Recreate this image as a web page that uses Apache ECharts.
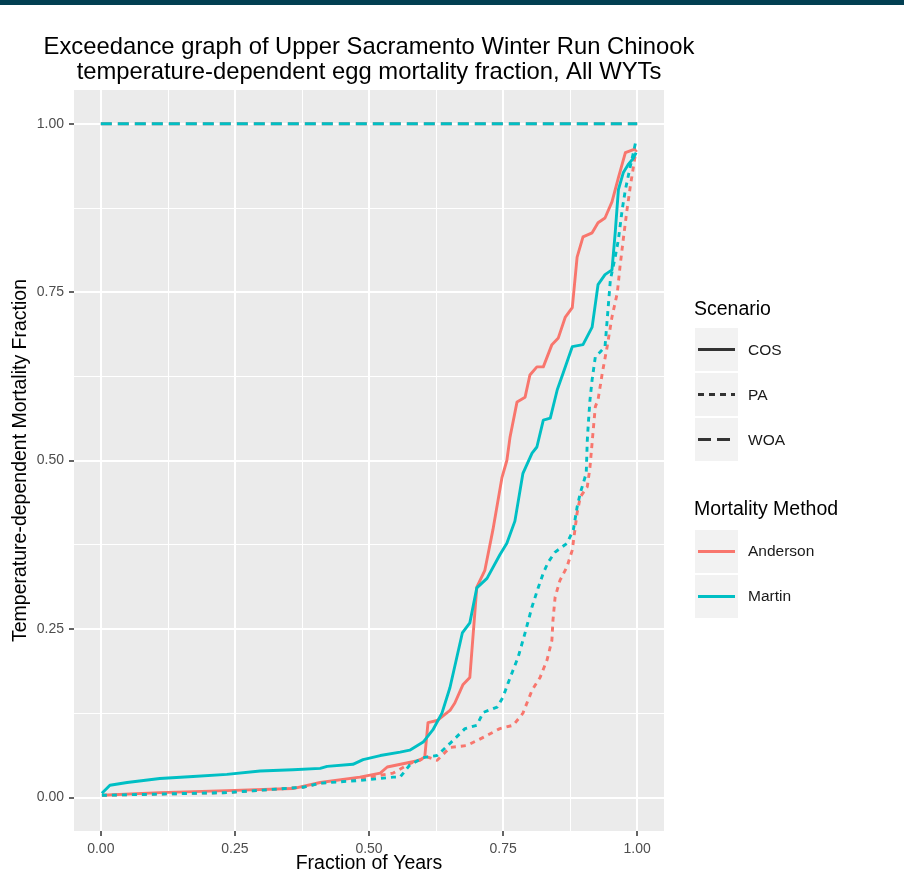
<!DOCTYPE html>
<html>
<head>
<meta charset="utf-8">
<script src="https://cdn.jsdelivr.net/npm/echarts@6/dist/echarts.min.js"></script>
<style>
  html, body { margin: 0; padding: 0; background: #ffffff; }
  #chart { width: 904px; height: 874px; }
</style>
</head>
<body>
<div id="chart"></div>
<script>
// Axis breaks
const xTicks = [0, 0.25, 0.5, 0.75, 1];
const xMinorTicks = [0.125, 0.375, 0.625, 0.875];
const yTicks = [0, 0.25, 0.5, 0.75, 1];
const yMinorTicks = [0.125, 0.375, 0.625, 0.875];

// Exceedance curves: [fraction of years, mortality fraction]
const andersonCOS = [
  [0.002, 0.003], [0.11, 0.007], [0.235, 0.01], [0.358, 0.013], [0.409, 0.022],
  [0.483, 0.03], [0.521, 0.036], [0.534, 0.045], [0.595, 0.055], [0.604, 0.06],
  [0.61, 0.111], [0.627, 0.114], [0.651, 0.129], [0.66, 0.14], [0.675, 0.167],
  [0.688, 0.178], [0.701, 0.312], [0.716, 0.337], [0.731, 0.397], [0.748, 0.475],
  [0.757, 0.5], [0.763, 0.535], [0.776, 0.587], [0.791, 0.594], [0.8, 0.627],
  [0.813, 0.639], [0.825, 0.639], [0.841, 0.672], [0.853, 0.682], [0.866, 0.713],
  [0.879, 0.727], [0.888, 0.802], [0.899, 0.832], [0.916, 0.838], [0.927, 0.853],
  [0.94, 0.86], [0.953, 0.884], [0.965, 0.92], [0.978, 0.957], [0.998, 0.963]
];
const martinCOS = [
  [0.002, 0.006], [0.017, 0.018], [0.049, 0.022], [0.11, 0.028], [0.172, 0.031],
  [0.235, 0.034], [0.297, 0.039], [0.358, 0.041], [0.409, 0.043], [0.422, 0.046],
  [0.47, 0.049], [0.489, 0.056], [0.521, 0.062], [0.558, 0.067], [0.576, 0.07],
  [0.601, 0.082], [0.619, 0.1], [0.636, 0.125], [0.651, 0.163], [0.674, 0.244],
  [0.688, 0.259], [0.701, 0.311], [0.72, 0.325], [0.744, 0.36], [0.757, 0.377],
  [0.772, 0.41], [0.787, 0.481], [0.804, 0.511], [0.813, 0.52], [0.825, 0.56],
  [0.838, 0.563], [0.851, 0.605], [0.862, 0.63], [0.879, 0.669], [0.899, 0.672],
  [0.916, 0.698], [0.927, 0.761], [0.94, 0.776], [0.953, 0.783], [0.959, 0.838],
  [0.965, 0.902], [0.974, 0.927], [0.983, 0.939], [0.993, 0.949], [0.998, 0.957]
];
const andersonPA = [
  [0.002, 0.003], [0.235, 0.007], [0.377, 0.015], [0.409, 0.021], [0.502, 0.03],
  [0.545, 0.036], [0.576, 0.05], [0.608, 0.06], [0.627, 0.055], [0.651, 0.074],
  [0.683, 0.077], [0.713, 0.089], [0.744, 0.102], [0.769, 0.107], [0.787, 0.125],
  [0.804, 0.159], [0.819, 0.178], [0.832, 0.204], [0.841, 0.233], [0.843, 0.263],
  [0.847, 0.297], [0.856, 0.322], [0.869, 0.342], [0.879, 0.367], [0.888, 0.422],
  [0.894, 0.446], [0.907, 0.461], [0.912, 0.49], [0.918, 0.545], [0.922, 0.58],
  [0.927, 0.59], [0.935, 0.63], [0.944, 0.669], [0.953, 0.713], [0.963, 0.749],
  [0.968, 0.788], [0.974, 0.828], [0.981, 0.872], [0.987, 0.906], [0.993, 0.936],
  [0.998, 0.961]
];
const martinPA = [
  [0.002, 0.003], [0.235, 0.007], [0.377, 0.015], [0.409, 0.021], [0.483, 0.025],
  [0.545, 0.03], [0.558, 0.03], [0.576, 0.048], [0.601, 0.059], [0.627, 0.062],
  [0.651, 0.08], [0.679, 0.102], [0.701, 0.107], [0.713, 0.126], [0.739, 0.134],
  [0.75, 0.149], [0.759, 0.169], [0.778, 0.208], [0.791, 0.244], [0.804, 0.283],
  [0.815, 0.31], [0.825, 0.333], [0.834, 0.349], [0.847, 0.364], [0.869, 0.377],
  [0.881, 0.397], [0.888, 0.431], [0.894, 0.452], [0.905, 0.481], [0.907, 0.53],
  [0.909, 0.556], [0.912, 0.59], [0.916, 0.62], [0.922, 0.654], [0.931, 0.661],
  [0.94, 0.669], [0.946, 0.728], [0.95, 0.768], [0.959, 0.802], [0.965, 0.828],
  [0.972, 0.872], [0.978, 0.902], [0.987, 0.936], [0.993, 0.957], [0.998, 0.976]
];
const andersonWOA = [[0, 1], [1, 1]];
const martinWOA = [[0, 1], [1, 1]];

const RED = '#F8766D';
const TEAL = '#00BFC4';
const FONT = '"Liberation Sans", Arial, sans-serif';

const solid = 'solid';
const dotted = [5, 5];
const dashed = [11, 6];

function curve(name, data, color, type) {
  return {
    name: name,
    type: 'line',
    data: data,
    symbol: 'none',
    showSymbol: false,
    silent: true,
    lineStyle: { color: color, width: 2.9, type: type, cap: 'butt', join: 'round' }
  };
}

const tickFmt = v => Number(v).toFixed(2);

const chart = echarts.init(document.getElementById('chart'), null, { renderer: 'canvas' });

const legendKeys = [];
function keyBox(y) {
  legendKeys.push({
    type: 'rect', shape: { x: 695, y: y, width: 43, height: 43 },
    style: { fill: '#F2F2F2' }, silent: true
  });
}
function keyLine(y, color, dash) {
  legendKeys.push({
    type: 'line', shape: { x1: 698, y1: y, x2: 735, y2: y },
    style: { stroke: color, lineWidth: 3, lineDash: dash, lineCap: 'butt' }, silent: true
  });
}
function keyText(y, text, size) {
  legendKeys.push({
    type: 'text', x: 748, y: y,
    style: { text: text, fill: '#1a1a1a', font: size + 'px ' + FONT, textAlign: 'left', textVerticalAlign: 'middle' },
    silent: true
  });
}

// Scenario legend
legendKeys.push({ type: 'text', x: 694, y: 310,
  style: { text: 'Scenario', fill: '#000', font: '19.5px ' + FONT, textAlign: 'left', textVerticalAlign: 'middle' } });
keyBox(328); keyBox(373); keyBox(418);
keyLine(349.5, '#333333', null);
keyLine(394.5, '#333333', [6, 5]);
keyLine(439.5, '#333333', [13, 6]);
keyText(351, 'COS', 15.5);
keyText(396, 'PA', 15.5);
keyText(441, 'WOA', 15.5);

// Mortality Method legend
legendKeys.push({ type: 'text', x: 694, y: 510,
  style: { text: 'Mortality Method', fill: '#000', font: '19.5px ' + FONT, textAlign: 'left', textVerticalAlign: 'middle' } });
keyBox(530); keyBox(575);
keyLine(551.5, RED, null);
keyLine(596.5, TEAL, null);
keyText(552, 'Anderson', 15.5);
keyText(597, 'Martin', 15.5);

const option = {
  animation: false,
  backgroundColor: '#ffffff',
  textStyle: { fontFamily: FONT },
  grid: {
    left: 74, top: 90, width: 590, height: 741,
    containLabel: false, outerBoundsMode: 'none',
    show: true, backgroundColor: '#EBEBEB', borderWidth: 0
  },
  xAxis: [
    {
      type: 'value', min: -0.05, max: 1.05, gridIndex: 0, position: 'bottom',
      name: 'Fraction of Years', nameLocation: 'middle', nameGap: 23, nameMoveOverlap: false,
      nameTextStyle: { fontSize: 19.5, color: '#000', fontFamily: FONT },
      axisLine: { show: false, onZero: false },
      axisTick: { show: true, inside: false, customValues: xTicks, length: 5, lineStyle: { color: '#333333', width: 1.5 } },
      axisLabel: { show: true, customValues: xTicks, formatter: tickFmt, margin: 11, fontSize: 14, color: '#4D4D4D', fontFamily: FONT },
      splitLine: { show: true, lineStyle: { color: '#ffffff', width: 2 } }
    },
    {
      type: 'value', min: -0.05, max: 1.05, gridIndex: 0, position: 'bottom',
      axisLine: { show: false, onZero: false },
      axisTick: { show: false, customValues: xMinorTicks },
      axisLabel: { show: false, customValues: xMinorTicks },
      splitLine: { show: true, lineStyle: { color: '#ffffff', width: 1 } }
    }
  ],
  yAxis: [
    {
      type: 'value', min: -0.05, max: 1.05, gridIndex: 0, position: 'left',
      name: 'Temperature-dependent Mortality Fraction', nameLocation: 'middle', nameGap: 43, nameMoveOverlap: false,
      nameTextStyle: { fontSize: 19.5, color: '#000', fontFamily: FONT },
      axisLine: { show: false, onZero: false },
      axisTick: { show: true, inside: false, customValues: yTicks, length: 5, lineStyle: { color: '#333333', width: 1.5 } },
      axisLabel: { show: true, customValues: yTicks, formatter: tickFmt, margin: 10, fontSize: 14, color: '#4D4D4D', fontFamily: FONT },
      splitLine: { show: true, lineStyle: { color: '#ffffff', width: 2 } }
    },
    {
      type: 'value', min: -0.05, max: 1.05, gridIndex: 0, position: 'left',
      axisLine: { show: false, onZero: false },
      axisTick: { show: false, customValues: yMinorTicks },
      axisLabel: { show: false, customValues: yMinorTicks },
      splitLine: { show: true, lineStyle: { color: '#ffffff', width: 1 } }
    }
  ],
  graphic: [
    { type: 'rect', shape: { x: 0, y: 0, width: 904, height: 5 }, style: { fill: '#023F52' }, silent: true },
    { type: 'text', x: 369, y: 47,
      style: { text: 'Exceedance graph of Upper Sacramento Winter Run Chinook', fill: '#000',
               font: '23.8px ' + FONT, textAlign: 'center', textVerticalAlign: 'middle' } },
    { type: 'text', x: 369, y: 72,
      style: { text: 'temperature-dependent egg mortality fraction, All WYTs', fill: '#000',
               font: '23.8px ' + FONT, textAlign: 'center', textVerticalAlign: 'middle' } }
  ].concat(legendKeys),
  series: [
    curve('Anderson COS', andersonCOS, RED, solid),
    curve('Anderson PA', andersonPA, RED, dotted),
    curve('Anderson WOA', andersonWOA, RED, dashed),
    curve('Martin COS', martinCOS, TEAL, solid),
    curve('Martin PA', martinPA, TEAL, dotted),
    curve('Martin WOA', martinWOA, TEAL, dashed)
  ]
};

chart.setOption(option);
</script>
</body>
</html>
